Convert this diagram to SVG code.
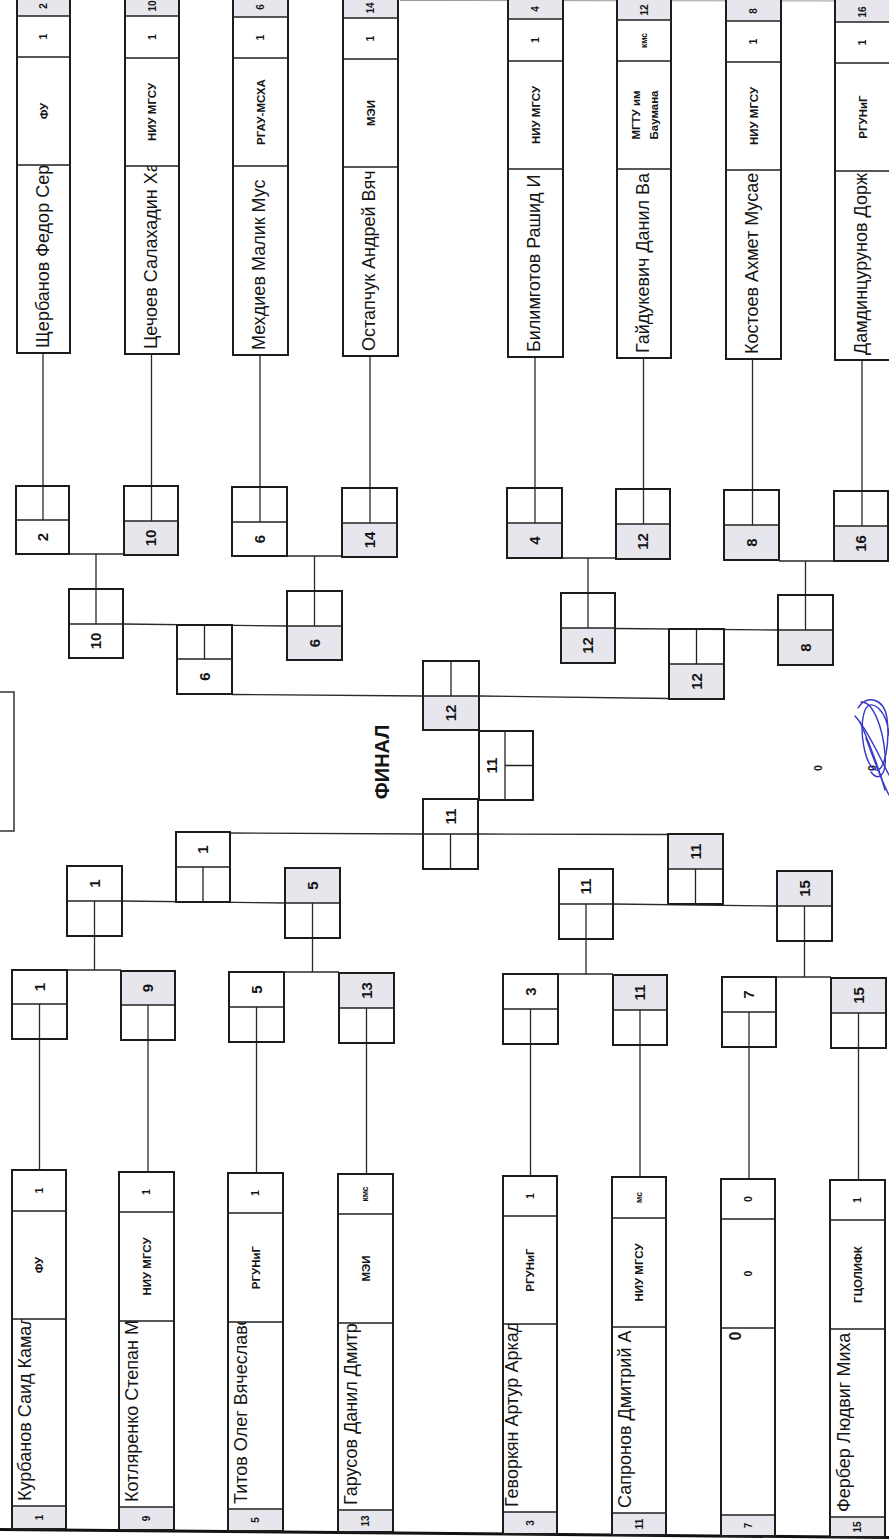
<svg xmlns="http://www.w3.org/2000/svg" width="889" height="1539" viewBox="0 0 889 1539">
<style>
.bg{fill:#ffffff}
.cell{fill:none;stroke:#1c1c1c;stroke-width:2}
.gray{fill:#e6e6ec}
.in{stroke:#222;stroke-width:1.3;fill:none}
.ln{stroke:#2a2a2a;stroke-width:1.3;fill:none}
.t{font-family:"Liberation Sans",Arial,sans-serif;fill:#151515}
.nm{font-size:18px}
.org{font-size:11.5px;font-weight:bold}
.v{font-size:10.5px;font-weight:bold}
.sv{font-size:8.5px;font-weight:bold}
.gn{font-size:10px;font-weight:bold}
.num{font-size:15px;font-weight:bold}
.fin{font-size:20px;font-weight:bold}
.c{text-anchor:middle}
</style>
<defs>
<clipPath id="c1"><rect x="17" y="165" width="53" height="188"/></clipPath>
<clipPath id="c2"><rect x="125" y="166" width="54" height="188"/></clipPath>
<clipPath id="c3"><rect x="233" y="166" width="55" height="189"/></clipPath>
<clipPath id="c4"><rect x="343" y="167" width="55" height="189"/></clipPath>
<clipPath id="c5"><rect x="508" y="169" width="55" height="188"/></clipPath>
<clipPath id="c6"><rect x="617" y="169" width="54" height="189"/></clipPath>
<clipPath id="c7"><rect x="726" y="170" width="55" height="189"/></clipPath>
<clipPath id="c8"><rect x="835" y="171" width="55" height="189"/></clipPath>
<clipPath id="d1"><rect x="12" y="1319" width="54" height="187"/></clipPath>
<clipPath id="d2"><rect x="119" y="1321" width="55" height="186"/></clipPath>
<clipPath id="d3"><rect x="228" y="1322" width="55" height="187"/></clipPath>
<clipPath id="d4"><rect x="338" y="1323" width="55" height="187"/></clipPath>
<clipPath id="d5"><rect x="503" y="1324" width="54" height="188"/></clipPath>
<clipPath id="d6"><rect x="612" y="1327" width="54" height="186"/></clipPath>
<clipPath id="d8"><rect x="830" y="1329" width="55" height="188"/></clipPath>
</defs>
<rect class="bg" x="0" y="0" width="889" height="1539"/>

<g id="connectors">
<path class="ln" d="M43 353V520M151.5 354V521M260 355V522M370 356V523M535 357V523M643.5 358V524M752.5 359V525M862 360V526"/>
<path class="ln" d="M69 554H124M96 554V624M287 556H342M314.5 556V626M562 558H616M588 558V628M779 561H834M805.5 561V630"/>
<path class="ln" d="M123 624L287 626M615 628.5L778 630"/>
<path class="ln" d="M232 694.5L423 696M479 696L669 698.5"/>
<path class="ln" d="M230 833L423 834M478 834L668 834.5"/>
<path class="ln" d="M122 901L285 903M613 904L777 906"/>
<path class="ln" d="M67 970H121M94.5 901V970M284 972H339M312.5 903V972M558 974H613M586 904V974M776 977H831M804.5 906V977"/>
<path class="ln" d="M39.5 1004V1170M148 1005V1172M256.5 1007V1173M366.5 1008V1174M530.5 1009V1176M640 1010V1177M749 1012V1179M858.5 1013V1180"/>
</g>

<g id="page-lines">
<line x1="0" y1="1529.5" x2="889" y2="1537.5" stroke="#111" stroke-width="3"/>
<line x1="400" y1="0.5" x2="889" y2="1" stroke="#9a9a9a" stroke-width="1"/>
<rect x="-5" y="692" width="19" height="139" fill="none" stroke="#333" stroke-width="1.5"/>
</g>

<!-- top entry strips -->
<g id="p-t1">
<rect class="gray" x="17" y="-20" width="53" height="36"/>
<rect class="cell" x="17" y="-20" width="53" height="373"/>
<path class="in" d="M17 16H70M17 57H70M17 165H70"/>
<text class="t gn c" transform="translate(43.5,6) rotate(-90)" dy="0.35em">2</text>
<text class="t v c" transform="translate(43.5,36.5) rotate(-90)" dy="0.35em">1</text>
<text class="t org c" font-size="13" transform="translate(43.5,111) rotate(-90)" dy="0.35em">ФУ</text>
<g clip-path="url(#c1)"><text class="t nm" transform="translate(49,348) rotate(-90)">Щербанов Федор Сер</text></g>
</g>
<g id="p-t2">
<rect class="gray" x="125" y="-20" width="54" height="36"/>
<rect class="cell" x="125" y="-20" width="54" height="374"/>
<path class="in" d="M125 16H179M125 58H179M125 166H179"/>
<text class="t gn c" transform="translate(152,6) rotate(-90)" dy="0.35em">10</text>
<text class="t v c" transform="translate(152,37) rotate(-90)" dy="0.35em">1</text>
<text class="t org c" transform="translate(152,112) rotate(-90)" dy="0.35em">НИУ МГСУ</text>
<g clip-path="url(#c2)"><text class="t nm" transform="translate(157,349) rotate(-90)">Цечоев Салахадин Ха</text></g>
</g>
<g id="p-t3">
<rect class="gray" x="233" y="-20" width="55" height="37"/>
<rect class="cell" x="233" y="-20" width="55" height="375"/>
<path class="in" d="M233 17H288M233 58H288M233 166H288"/>
<text class="t gn c" transform="translate(260.5,7) rotate(-90)" dy="0.35em">6</text>
<text class="t v c" transform="translate(260.5,37.5) rotate(-90)" dy="0.35em">1</text>
<text class="t org c" transform="translate(260.5,112) rotate(-90)" dy="0.35em">РГАУ-МСХА</text>
<g clip-path="url(#c3)"><text class="t nm" transform="translate(265,350) rotate(-90)">Мехдиев Малик Мус</text></g>
</g>
<g id="p-t4">
<rect class="gray" x="343" y="-20" width="55" height="38"/>
<rect class="cell" x="343" y="-20" width="55" height="376"/>
<path class="in" d="M343 18H398M343 59H398M343 167H398"/>
<text class="t gn c" transform="translate(370.5,8) rotate(-90)" dy="0.35em">14</text>
<text class="t v c" transform="translate(370.5,38.5) rotate(-90)" dy="0.35em">1</text>
<text class="t org c" font-size="13" transform="translate(370.5,113) rotate(-90)" dy="0.35em">МЭИ</text>
<g clip-path="url(#c4)"><text class="t nm" transform="translate(375,351) rotate(-90)">Остапчук Андрей Вяч</text></g>
</g>
<g id="p-t5">
<rect class="gray" x="508" y="-20" width="55" height="39"/>
<rect class="cell" x="508" y="-20" width="55" height="377"/>
<path class="in" d="M508 19H563M508 61H563M508 169H563"/>
<text class="t gn c" transform="translate(535.5,9) rotate(-90)" dy="0.35em">4</text>
<text class="t v c" transform="translate(535.5,40) rotate(-90)" dy="0.35em">1</text>
<text class="t org c" transform="translate(535.5,115) rotate(-90)" dy="0.35em">НИУ МГСУ</text>
<g clip-path="url(#c5)"><text class="t nm" transform="translate(540,352) rotate(-90)">Билимготов Рашид И</text></g>
</g>
<g id="p-t6">
<rect class="gray" x="617" y="-20" width="54" height="40"/>
<rect class="cell" x="617" y="-20" width="54" height="378"/>
<path class="in" d="M617 20H671M617 61H671M617 169H671"/>
<text class="t gn c" transform="translate(644,10) rotate(-90)" dy="0.35em">12</text>
<text class="t sv c" transform="translate(644,40.5) rotate(-90)" dy="0.35em">кмс</text>
<text class="t c" font-size="11.5" font-weight="bold" transform="translate(636,115) rotate(-90)" dy="0.35em">МГТУ им</text>
<text class="t c" font-size="11.5" font-weight="bold" transform="translate(654,115) rotate(-90)" dy="0.35em">Баумана</text>
<g clip-path="url(#c6)"><text class="t nm" transform="translate(649,353) rotate(-90)">Гайдукевич Данил Ва</text></g>
</g>
<g id="p-t7">
<rect class="gray" x="726" y="-20" width="55" height="41"/>
<rect class="cell" x="726" y="-20" width="55" height="379"/>
<path class="in" d="M726 21H781M726 62H781M726 170H781"/>
<text class="t gn c" transform="translate(753.5,11) rotate(-90)" dy="0.35em">8</text>
<text class="t v c" transform="translate(753.5,41.5) rotate(-90)" dy="0.35em">1</text>
<text class="t org c" transform="translate(753.5,116) rotate(-90)" dy="0.35em">НИУ МГСУ</text>
<g clip-path="url(#c7)"><text class="t nm" transform="translate(758,354) rotate(-90)">Костоев Ахмет Мусае</text></g>
</g>
<g id="p-t8">
<rect class="gray" x="835" y="-20" width="55" height="42"/>
<rect class="cell" x="835" y="-20" width="55" height="380"/>
<path class="in" d="M835 22H890M835 63H890M835 171H890"/>
<text class="t gn c" transform="translate(862.5,12) rotate(-90)" dy="0.35em">16</text>
<text class="t v c" transform="translate(862.5,42.5) rotate(-90)" dy="0.35em">1</text>
<text class="t org c" transform="translate(862.5,117) rotate(-90)" dy="0.35em">РГУНиГ</text>
<g clip-path="url(#c8)"><text class="t nm" transform="translate(867,355) rotate(-90)">Дамдинцурунов Дорж</text></g>
</g>

<!-- bottom entry strips -->
<g id="p-b1">
<rect class="gray" x="12" y="1506" width="54" height="23"/>
<rect class="cell" x="12" y="1170" width="54" height="359"/>
<path class="in" d="M12 1211H66M12 1319H66M12 1506H66"/>
<text class="t v c" transform="translate(39,1190.5) rotate(-90)" dy="0.35em">1</text>
<text class="t org c" font-size="13" transform="translate(39,1265) rotate(-90)" dy="0.35em">ФУ</text>
<g clip-path="url(#d1)"><text class="t nm" transform="translate(31,1501) rotate(-90)">Курбанов Саид Камал</text></g>
<text class="t gn c" transform="translate(39,1517.5) rotate(-90)" dy="0.35em">1</text>
</g>
<g id="p-b2">
<rect class="gray" x="119" y="1507" width="55" height="23"/>
<rect class="cell" x="119" y="1172" width="55" height="358"/>
<path class="in" d="M119 1212H174M119 1321H174M119 1507H174"/>
<text class="t v c" transform="translate(146.5,1192) rotate(-90)" dy="0.35em">1</text>
<text class="t org c" transform="translate(146.5,1266.5) rotate(-90)" dy="0.35em">НИУ МГСУ</text>
<g clip-path="url(#d2)"><text class="t nm" transform="translate(138,1502) rotate(-90)">Котляренко Степан М</text></g>
<text class="t gn c" transform="translate(146.5,1518.5) rotate(-90)" dy="0.35em">9</text>
</g>
<g id="p-b3">
<rect class="gray" x="228" y="1509" width="55" height="22"/>
<rect class="cell" x="228" y="1173" width="55" height="358"/>
<path class="in" d="M228 1213H283M228 1322H283M228 1509H283"/>
<text class="t v c" transform="translate(255.5,1193) rotate(-90)" dy="0.35em">1</text>
<text class="t org c" transform="translate(255.5,1267.5) rotate(-90)" dy="0.35em">РГУНиГ</text>
<g clip-path="url(#d3)"><text class="t nm" transform="translate(247,1504) rotate(-90)">Титов Олег Вячеславо</text></g>
<text class="t gn c" transform="translate(255.5,1520) rotate(-90)" dy="0.35em">5</text>
</g>
<g id="p-b4">
<rect class="gray" x="338" y="1510" width="55" height="22"/>
<rect class="cell" x="338" y="1174" width="55" height="358"/>
<path class="in" d="M338 1214H393M338 1323H393M338 1510H393"/>
<text class="t sv c" transform="translate(365.5,1194) rotate(-90)" dy="0.35em">кмс</text>
<text class="t org c" font-size="13" transform="translate(365.5,1268.5) rotate(-90)" dy="0.35em">МЭИ</text>
<g clip-path="url(#d4)"><text class="t nm" transform="translate(357,1505) rotate(-90)">Гарусов Данил Дмитр</text></g>
<text class="t gn c" transform="translate(365.5,1521) rotate(-90)" dy="0.35em">13</text>
</g>
<g id="p-b5">
<rect class="gray" x="503" y="1512" width="54" height="22"/>
<rect class="cell" x="503" y="1176" width="54" height="358"/>
<path class="in" d="M503 1216H557M503 1324H557M503 1512H557"/>
<text class="t v c" transform="translate(530,1196) rotate(-90)" dy="0.35em">1</text>
<text class="t org c" transform="translate(530,1270) rotate(-90)" dy="0.35em">РГУНиГ</text>
<g clip-path="url(#d5)"><text class="t nm" transform="translate(518,1507) rotate(-90)">Геворкян Артур Аркад</text></g>
<text class="t gn c" transform="translate(530,1523) rotate(-90)" dy="0.35em">3</text>
</g>
<g id="p-b6">
<rect class="gray" x="612" y="1513" width="54" height="22"/>
<rect class="cell" x="612" y="1177" width="54" height="358"/>
<path class="in" d="M612 1218H666M612 1327H666M612 1513H666"/>
<text class="t sv c" transform="translate(639,1197.5) rotate(-90)" dy="0.35em">мс</text>
<text class="t org c" transform="translate(639,1272.5) rotate(-90)" dy="0.35em">НИУ МГСУ</text>
<g clip-path="url(#d6)"><text class="t nm" transform="translate(631,1508) rotate(-90)">Сапронов Дмитрий А</text></g>
<text class="t gn c" transform="translate(639,1524) rotate(-90)" dy="0.35em">11</text>
</g>
<g id="p-b7">
<rect class="gray" x="721" y="1515" width="54" height="21"/>
<rect class="cell" x="721" y="1179" width="54" height="357"/>
<path class="in" d="M721 1219H775M721 1328H775M721 1515H775"/>
<text class="t v c" transform="translate(748,1199) rotate(-90)" dy="0.35em">0</text>
<text class="t v c" transform="translate(748,1273.5) rotate(-90)" dy="0.35em">0</text>
<text class="t c" font-size="16" font-weight="bold" transform="translate(735,1336) rotate(-90)" dy="0.35em">0</text>
<text class="t gn c" transform="translate(748,1525.5) rotate(-90)" dy="0.35em">7</text>
</g>
<g id="p-b8">
<rect class="gray" x="830" y="1517" width="55" height="20"/>
<rect class="cell" x="830" y="1180" width="55" height="357"/>
<path class="in" d="M830 1220H885M830 1329H885M830 1517H885"/>
<text class="t v c" transform="translate(857.5,1200) rotate(-90)" dy="0.35em">1</text>
<text class="t org c" transform="translate(857.5,1274.5) rotate(-90)" dy="0.35em">ГЦОЛИФК</text>
<g clip-path="url(#d8)"><text class="t nm" transform="translate(850,1512) rotate(-90)">Фербер Людвиг Миха</text></g>
<text class="t gn c" transform="translate(857.5,1527) rotate(-90)" dy="0.35em">15</text>
</g>

<!-- top round 1 -->
<g id="n-b2"><rect class="cell" x="16" y="486" width="53" height="68"/><path class="in" d="M16 520H69"/><text class="t num c" transform="translate(42.5,537) rotate(-90)" dy="0.35em">2</text></g>
<g id="n-b10"><rect class="gray" x="124" y="521" width="54" height="34"/><rect class="cell" x="124" y="486" width="54" height="69"/><path class="in" d="M124 521H178"/><text class="t num c" transform="translate(151,538) rotate(-90)" dy="0.35em">10</text></g>
<g id="n-b6"><rect class="cell" x="232" y="487" width="55" height="69"/><path class="in" d="M232 522H287"/><text class="t num c" transform="translate(259.5,539) rotate(-90)" dy="0.35em">6</text></g>
<g id="n-b14"><rect class="gray" x="342" y="523" width="55" height="34"/><rect class="cell" x="342" y="488" width="55" height="69"/><path class="in" d="M342 523H397"/><text class="t num c" transform="translate(369.5,540) rotate(-90)" dy="0.35em">14</text></g>
<g id="n-b4"><rect class="gray" x="507" y="523" width="55" height="35"/><rect class="cell" x="507" y="488" width="55" height="70"/><path class="in" d="M507 523H562"/><text class="t num c" transform="translate(534.5,540.5) rotate(-90)" dy="0.35em">4</text></g>
<g id="n-b12"><rect class="gray" x="616" y="524" width="54" height="35"/><rect class="cell" x="616" y="489" width="54" height="70"/><path class="in" d="M616 524H670"/><text class="t num c" transform="translate(643,541.5) rotate(-90)" dy="0.35em">12</text></g>
<g id="n-b8"><rect class="gray" x="724" y="525" width="55" height="35"/><rect class="cell" x="724" y="490" width="55" height="70"/><path class="in" d="M724 525H779"/><text class="t num c" transform="translate(751.5,542.5) rotate(-90)" dy="0.35em">8</text></g>
<g id="n-b16"><rect class="gray" x="834" y="526" width="54" height="35"/><rect class="cell" x="834" y="491" width="54" height="70"/><path class="in" d="M834 526H888"/><text class="t num c" transform="translate(861,543.5) rotate(-90)" dy="0.35em">16</text></g>

<!-- top round 2 -->
<g id="n-r10"><rect class="cell" x="69" y="589" width="54" height="69"/><path class="in" d="M69 624H123"/><text class="t num c" transform="translate(96,641) rotate(-90)" dy="0.35em">10</text></g>
<g id="n-r6"><rect class="gray" x="287" y="626" width="55" height="34"/><rect class="cell" x="287" y="591" width="55" height="69"/><path class="in" d="M287 626H342"/><text class="t num c" transform="translate(314.5,643) rotate(-90)" dy="0.35em">6</text></g>
<g id="n-r12"><rect class="gray" x="561" y="628" width="54" height="35"/><rect class="cell" x="561" y="593" width="54" height="70"/><path class="in" d="M561 628H615"/><text class="t num c" transform="translate(588,645.5) rotate(-90)" dy="0.35em">12</text></g>
<g id="n-r8"><rect class="gray" x="778" y="630" width="55" height="35"/><rect class="cell" x="778" y="595" width="55" height="70"/><path class="in" d="M778 630H833"/><text class="t num c" transform="translate(805.5,647.5) rotate(-90)" dy="0.35em">8</text></g>

<!-- semifinals and final -->
<g id="n-s6"><rect class="cell" x="177" y="625" width="55" height="69"/><path class="in" d="M177 659H232M204.5 625V659"/><text class="t num c" transform="translate(204.5,676.5) rotate(-90)" dy="0.35em">6</text></g>
<g id="n-s12"><rect class="gray" x="669" y="664" width="55" height="35"/><rect class="cell" x="669" y="629" width="55" height="70"/><path class="in" d="M669 664H724M696.5 629V664"/><text class="t num c" transform="translate(696.5,681.5) rotate(-90)" dy="0.35em">12</text></g>
<g id="n-f12"><rect class="gray" x="423" y="696" width="56" height="34"/><rect class="cell" x="423" y="661" width="56" height="69"/><path class="in" d="M423 696H479M451 661V696"/><text class="t num c" transform="translate(451,713) rotate(-90)" dy="0.35em">12</text></g>
<g id="n-f11m"><rect class="cell" x="479" y="731" width="54" height="69"/><path class="in" d="M505 731V800M505 765.5H533"/><text class="t num c" transform="translate(492,765.5) rotate(-90)" dy="0.35em">11</text></g>
<g id="n-f11"><rect class="cell" x="423" y="799" width="55" height="70"/><path class="in" d="M423 834H478M450.5 834V869"/><text class="t num c" transform="translate(450.5,816.5) rotate(-90)" dy="0.35em">11</text></g>
<g id="n-s1"><rect class="cell" x="176" y="832" width="54" height="70"/><path class="in" d="M176 867H230M203 867V902"/><text class="t num c" transform="translate(203,849.5) rotate(-90)" dy="0.35em">1</text></g>
<g id="n-s11"><rect class="gray" x="668" y="834" width="55" height="35"/><rect class="cell" x="668" y="834" width="55" height="70"/><path class="in" d="M668 869H723M695.5 869V904"/><text class="t num c" transform="translate(695.5,851.5) rotate(-90)" dy="0.35em">11</text></g>
<text id="final-label" class="t fin c" transform="translate(382,762) rotate(-90)" dy="0.35em">ФИНАЛ</text>

<!-- bottom round 2 -->
<g id="n-r1"><rect class="cell" x="67" y="866" width="55" height="70"/><path class="in" d="M67 901H122"/><text class="t num c" transform="translate(94.5,883.5) rotate(-90)" dy="0.35em">1</text></g>
<g id="n-r5"><rect class="gray" x="285" y="868" width="55" height="35"/><rect class="cell" x="285" y="868" width="55" height="70"/><path class="in" d="M285 903H340"/><text class="t num c" transform="translate(312.5,885.5) rotate(-90)" dy="0.35em">5</text></g>
<g id="n-r11"><rect class="cell" x="559" y="869" width="54" height="70"/><path class="in" d="M559 904H613"/><text class="t num c" transform="translate(586,886.5) rotate(-90)" dy="0.35em">11</text></g>
<g id="n-r15"><rect class="gray" x="777" y="871" width="55" height="35"/><rect class="cell" x="777" y="871" width="55" height="70"/><path class="in" d="M777 906H832"/><text class="t num c" transform="translate(804.5,888.5) rotate(-90)" dy="0.35em">15</text></g>

<!-- bottom round 1 -->
<g id="n-a1"><rect class="cell" x="12" y="970" width="55" height="69"/><path class="in" d="M12 1004H67"/><text class="t num c" transform="translate(39.5,987) rotate(-90)" dy="0.35em">1</text></g>
<g id="n-a9"><rect class="gray" x="121" y="971" width="54" height="34"/><rect class="cell" x="121" y="971" width="54" height="69"/><path class="in" d="M121 1005H175"/><text class="t num c" transform="translate(148,988) rotate(-90)" dy="0.35em">9</text></g>
<g id="n-a5"><rect class="cell" x="229" y="972" width="55" height="70"/><path class="in" d="M229 1007H284"/><text class="t num c" transform="translate(256.5,989.5) rotate(-90)" dy="0.35em">5</text></g>
<g id="n-a13"><rect class="gray" x="339" y="973" width="55" height="35"/><rect class="cell" x="339" y="973" width="55" height="70"/><path class="in" d="M339 1008H394"/><text class="t num c" transform="translate(366.5,990.5) rotate(-90)" dy="0.35em">13</text></g>
<g id="n-a3"><rect class="cell" x="503" y="974" width="55" height="70"/><path class="in" d="M503 1009H558"/><text class="t num c" transform="translate(530.5,991.5) rotate(-90)" dy="0.35em">3</text></g>
<g id="n-a11"><rect class="gray" x="613" y="975" width="54" height="35"/><rect class="cell" x="613" y="975" width="54" height="70"/><path class="in" d="M613 1010H667"/><text class="t num c" transform="translate(640,992.5) rotate(-90)" dy="0.35em">11</text></g>
<g id="n-a7"><rect class="cell" x="722" y="977" width="54" height="70"/><path class="in" d="M722 1012H776"/><text class="t num c" transform="translate(749,994.5) rotate(-90)" dy="0.35em">7</text></g>
<g id="n-a15"><rect class="gray" x="831" y="978" width="55" height="35"/><rect class="cell" x="831" y="978" width="55" height="70"/><path class="in" d="M831 1013H886"/><text class="t num c" transform="translate(858.5,995.5) rotate(-90)" dy="0.35em">15</text></g>

<!-- marks and signature -->
<g id="marks">
<text class="t v c" transform="translate(818,768) rotate(-90)" dy="0.35em">0</text>
<text class="t v c" transform="translate(872,768) rotate(-90)" dy="0.35em">0</text>
</g>
<g id="signature" fill="none" stroke="#3838c8" stroke-width="1.4" stroke-linecap="round">
<path d="M858 708C866 694 884 698 887 718C890 742 885 772 876 770C865 766 858 730 865 710C871 697 887 710 889 735"/>
<path d="M855 716C868 730 880 758 889 775"/>
<path d="M861 702C873 701 883 728 885 754C887 776 878 782 871 772"/>
<path d="M866 738C874 760 882 782 889 795"/>
<path d="M860 722C870 745 878 765 885 790"/>
</g>
</svg>
